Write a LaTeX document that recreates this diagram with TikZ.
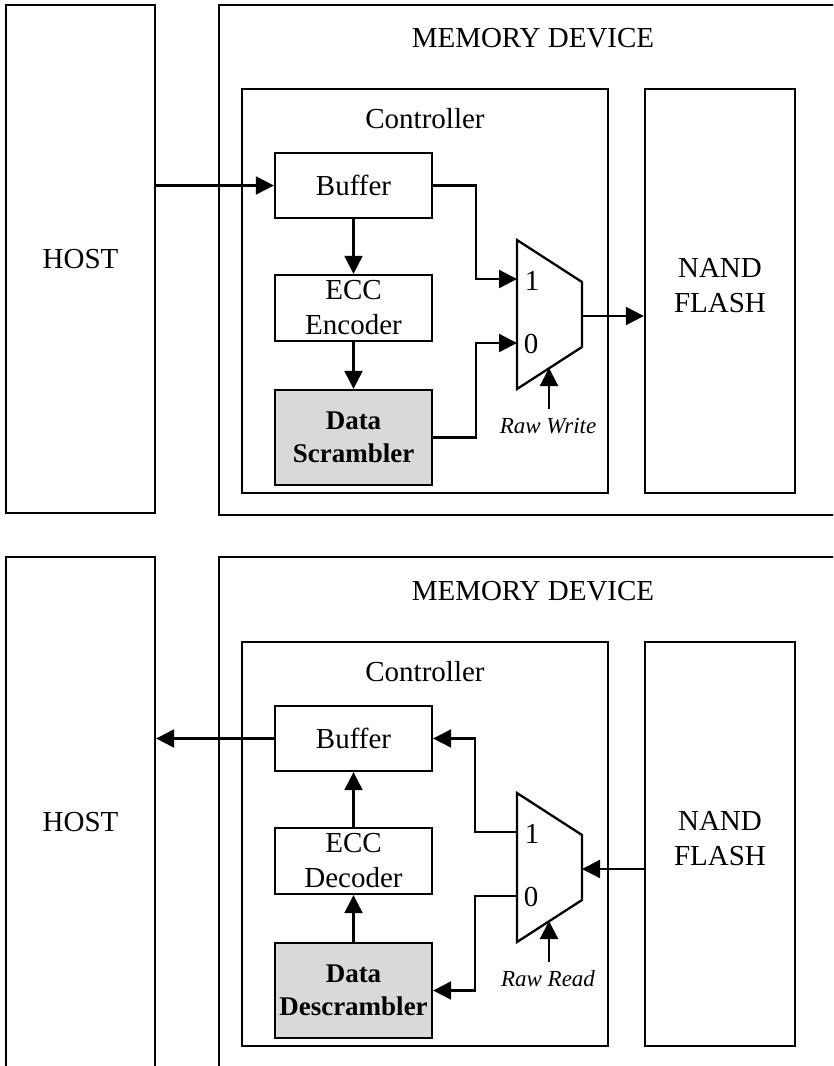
\documentclass[tikz,border=0pt]{standalone}
\usepackage{fontspec}
\setmainfont{Liberation Serif}
\usetikzlibrary{arrows.meta}
\definecolor{scrfill}{RGB}{217,217,217}
\tikzset{
  box/.style={draw, line width=2.3pt, inner sep=0pt, align=center, font=\fontsize{29}{35}\selectfont},
  lbl/.style={inner sep=0pt, align=center, font=\fontsize{29}{35}\selectfont},
  itl/.style={inner sep=0pt, font=\fontsize{23}{28}\selectfont\itshape},
  arr/.style={line width=2.2pt, -{Triangle[length=18pt,width=18pt]}},
  muxshape/.style={line width=2.3pt, line join=miter}
}
\begin{document}
\begin{tikzpicture}[x=1pt,y=-1pt]
\useasboundingbox (0,0) rectangle (833,1066);
\clip (0,0) rectangle (833,1066);
\fill[white] (0,0) rectangle (833,1066);

% ===== Top panel =====
\node[box, minimum width=149pt, minimum height=508pt] (host) at (80.5,259) {HOST};
\node[box, minimum width=631pt, minimum height=510pt] (mem) at (534.5,260) {};
\node[lbl] (memlbl) at (533,38) {MEMORY DEVICE};
\node[box, minimum width=366pt, minimum height=404pt] (ctrl) at (425,291) {};
\node[lbl] (ctrllbl) at (425,119) {Controller};
\node[box, minimum width=150pt, minimum height=404pt] (nand) at (720,291) {};
\node[lbl] (nandlbl) at (720,286) {NAND\\FLASH};
\node[box, minimum width=157pt, minimum height=65pt] (buf) at (353.5,185.5) {Buffer};
\node[box, minimum width=157pt, minimum height=66pt] (ecc) at (353.5,308) {ECC\\Encoder};
\node[box, fill=scrfill, minimum width=157pt, minimum height=95pt, font=\fontsize{27}{33}\selectfont\bfseries] (scr) at (353.5,437.5) {Data\\Scrambler};

\draw[muxshape] (517,240) -- (582,282) -- (582,347) -- (517,389) -- cycle;
\coordinate (in1) at (517,279);
\coordinate (in0) at (517,343);
\coordinate (out) at (582,316);
\coordinate (sel) at (549,368);
\coordinate (selsrc) at (549,409);
\node[lbl] (one) at (532,281) {1};
\node[lbl] (zero) at (531,344) {0};
\node[itl] (rw) at (548,426) {Raw Write};

\draw[arr] (buf.west -| host.east) -- (buf.west);
\draw[arr] (buf.south) -- (ecc.north);
\draw[arr] (ecc.south) -- (scr.north);
\draw[arr] (buf.east) -- ++(43,0) |- (in1);
\draw[arr] (scr.east) -- ++(43,0) |- (in0);
\draw[arr] (out) -- (out -| nand.west);
\draw[arr] (selsrc) -- (sel);

% ===== Bottom panel =====
\node[box, minimum width=149pt, minimum height=530pt] (host2) at (80.5,822) {HOST};
\node[box, minimum width=631pt, minimum height=530pt] (mem2) at (534.5,822) {};
\node[lbl] (memlbl2) at (533,591) {MEMORY DEVICE};
\node[box, minimum width=366pt, minimum height=404pt] (ctrl2) at (425,844) {};
\node[lbl] (ctrllbl2) at (425,672) {Controller};
\node[box, minimum width=150pt, minimum height=404pt] (nand2) at (720,844) {};
\node[lbl] (nandlbl2) at (720,839) {NAND\\FLASH};
\node[box, minimum width=157pt, minimum height=65pt] (buf2) at (353.5,738.5) {Buffer};
\node[box, minimum width=157pt, minimum height=66pt] (ecc2) at (353.5,861) {ECC\\Decoder};
\node[box, fill=scrfill, minimum width=157pt, minimum height=95pt, font=\fontsize{27}{33}\selectfont\bfseries] (des) at (353.5,990.5) {Data\\Descrambler};

\draw[muxshape] (517,793) -- (582,835) -- (582,900) -- (517,942) -- cycle;
\coordinate (in1b) at (517,832);
\coordinate (in0b) at (517,896);
\coordinate (outb) at (582,869);
\coordinate (selb) at (549,921);
\coordinate (selsrcb) at (549,962);
\node[lbl] (oneb) at (532,834) {1};
\node[lbl] (zerob) at (531,897) {0};
\node[itl] (rr) at (548,979) {Raw Read};

\draw[arr] (buf2.west) -- (buf2.west -| host2.east);
\draw[arr] (ecc2.north) -- (buf2.south);
\draw[arr] (des.north) -- (ecc2.south);
\draw[arr] (in1b) -- ++(-42,0) |- (buf2.east);
\draw[arr] (in0b) -- ++(-42,0) |- (des.east);
\draw[arr] (outb -| nand2.west) -- (outb);
\draw[arr] (selsrcb) -- (selb);
\end{tikzpicture}
\end{document}
